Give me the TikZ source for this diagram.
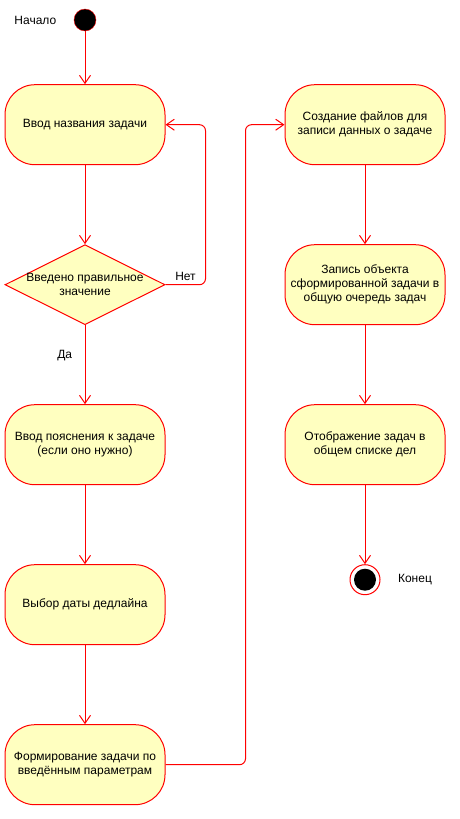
\documentclass[tikz,border=0pt]{standalone}
\usepackage{fontspec}
\setmainfont{Liberation Sans}
\usetikzlibrary{arrows.meta,positioning,shapes.geometric}

\definecolor{umlred}{HTML}{FF0000}
\definecolor{umlfill}{HTML}{FFFFC0}

\begin{document}
\begin{tikzpicture}[
    x=1pt, y=-1pt,
    node distance=79pt and 119pt,
    font=\fontsize{12}{14}\selectfont,
    action/.style={draw=umlred, fill=umlfill, rounded corners=30pt, line width=1pt, align=center, minimum width=160pt, minimum height=80pt},
    decision/.style={draw=umlred, fill=umlfill, diamond, aspect=2, line width=1pt, inner sep=0pt, minimum width=160pt, minimum height=80pt},
    initial/.style={circle, draw=umlred, fill=black, inner sep=0pt, minimum size=22pt},
    final/.style={circle, draw=umlred, fill=white, line width=1pt, inner sep=0pt, minimum size=30pt,
        path picture={\fill[black] (path picture bounding box.center) circle (11pt);}},
    arrow/.style={-{Straight Barb[length=8pt, width=11pt]}, draw=umlred, line width=1pt}
]
    \useasboundingbox (0,0) rectangle (460,819);

    \node[initial] (start) at (85,20) {};
    \node[left=14pt of start] (startlbl) {Начало};
    \node[action, below=53pt of start] (title) {Ввод названия задачи};
    \node[decision, below=of title, label={[align=center]center:{Введено правильное\\значение}}] (check) {};
    \node[action, below=of check] (details) {Ввод пояснения к задаче\\(если оно нужно)};
    \node[action, below=of details] (deadline) {Выбор даты дедлайна};
    \node[action, below=of deadline] (build) {Формирование задачи по\\введённым параметрам};

    \node[action, right=of title] (files) {Создание файлов для\\записи данных о задаче};
    \node[action, below=of files] (queue) {Запись объекта\\сформированной задачи в\\общую очередь задач};
    \node[action, below=of queue] (display) {Отображение задач в\\общем списке дел};
    \node[final, below=of display] (finish) {};
    \node[right=14pt of finish] (endlbl) {Конец};

    \draw[arrow] (start) -- (title);
    \draw[arrow] (title) -- (check);
    \draw[arrow, rounded corners=6pt] (check.east) -- node[above=0pt] {Нет} ++(40,0) |- (title.east);
    \draw[arrow] (check) -- node[pos=0.38, left=9pt] {Да} (details);
    \draw[arrow] (details) -- (deadline);
    \draw[arrow] (deadline) -- (build);
    \draw[arrow, rounded corners=6pt] (build.east) -- ++(80,0) |- (files.west);
    \draw[arrow] (files) -- (queue);
    \draw[arrow] (queue) -- (display);
    \draw[arrow] (display) -- (finish);
\end{tikzpicture}
\end{document}
